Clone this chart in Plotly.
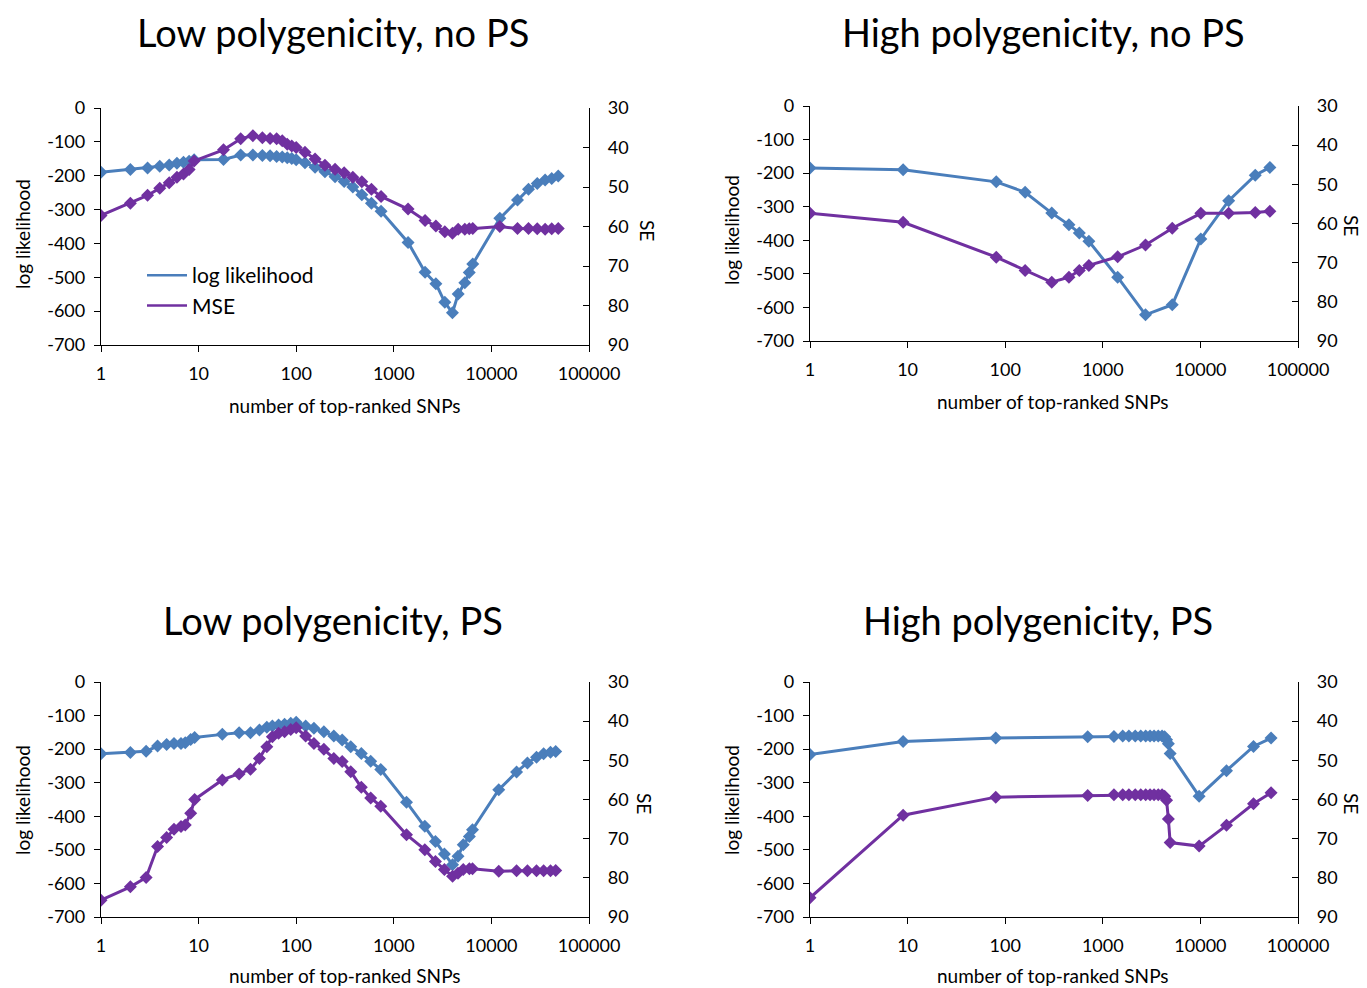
import plotly.graph_objects as go

# ---------------- data ----------------
panel_titles = ["Low polygenicity, no PS", "High polygenicity, no PS",
                "Low polygenicity, PS", "High polygenicity, PS"]
x_title = "number of top-ranked SNPs"
y_title = "log likelihood"
y2_title = "SE"
series_names = ["log likelihood", "MSE"]
x_tick_vals = [1, 10, 100, 1000, 10000, 100000]
x_tick_text = ["1", "10", "100", "1000", "10000", "100000"]
ll_tick_vals = [0, -100, -200, -300, -400, -500, -600, -700]
ll_tick_text = ["0", "-100", "-200", "-300", "-400", "-500", "-600", "-700"]
se_tick_vals = [30, 40, 50, 60, 70, 80, 90]

low_nops_snps = [1, 2, 3, 4, 5, 6, 7, 8, 9, 18, 27, 36, 45, 54, 63, 72, 81, 90, 100,
                 123, 156, 197, 250, 310, 380, 470, 590, 740,
                 1400, 2090, 2700, 3330, 3990, 4570, 5340, 5930, 6440,
                 12200, 18500, 24000, 29500, 35500, 41500, 48400]
low_nops_loglik = [-190, -182, -177, -172, -168, -163, -160, -157, -153, -152, -139, -139, -140, -141,
                   -143, -145, -147, -149, -153,
                   -162, -175, -188, -203, -217, -233, -256, -281, -305,
                   -397, -485, -519, -574, -605, -549, -516, -486, -461,
                   -326, -272, -240, -223, -213, -208, -201]
low_nops_mse = [57.2, 54.1, 52.1, 50.3, 48.9, 47.5, 46.7, 45.6, 43.4, 40.6, 37.8, 37.0, 37.5, 37.7,
                37.8, 38.3, 39.2, 39.6, 40.0,
                41.2, 42.9, 44.5, 45.5, 46.4, 47.5, 48.7, 50.6, 52.4,
                55.6, 58.5, 59.9, 61.3, 61.7, 60.7, 60.7, 60.6, 60.5,
                60.0, 60.5, 60.5, 60.6, 60.7, 60.6, 60.5]

high_nops_snps = [1, 9, 81, 160, 300, 450, 575, 720, 1420, 2740, 5150, 10100, 19500, 36500, 51500]
high_nops_loglik = [-185, -190, -226, -257, -319, -354, -378, -403, -510, -622, -592, -396, -282, -206, -183]
high_nops_mse = [57.4, 59.7, 68.6, 72.0, 75.0, 73.7, 72.0, 70.7, 68.5, 65.5, 61.2, 57.4, 57.4, 57.2, 56.9]

low_ps_snps = [1, 2, 2.9, 3.8, 4.7, 5.6, 6.6, 7.3, 8.3, 9.1, 17.5, 26, 34, 42, 50, 57, 66, 76, 88, 100,
               125, 152, 192, 243, 296, 362, 465, 580, 735,
               1350, 2080, 2670, 3300, 4000, 4550, 5150, 5950, 6400,
               11900, 18100, 23400, 29000, 34300, 40300, 45600]
low_ps_loglik = [-214, -210, -206, -191, -186, -183, -183, -181, -171, -165,
                 -156, -151, -151, -143, -135, -131, -128, -126, -123, -120,
                 -131, -138, -148, -161, -173, -193, -213, -236, -261,
                 -358, -430, -475, -512, -544, -519, -485, -460, -440,
                 -321, -268, -241, -224, -214, -209, -207]
low_ps_mse = [85.7, 82.3, 79.9, 72.0, 69.7, 67.6, 66.9, 66.5, 63.5, 60.0,
              55.0, 53.5, 52.3, 49.5, 46.5, 44.0, 43.1, 42.7, 42.1, 41.7,
              43.8, 45.7, 47.2, 49.5, 50.3, 52.9, 56.9, 59.6, 61.7,
              69.0, 72.8, 75.8, 77.9, 79.6, 78.8, 77.9, 77.7, 77.7,
              78.3, 78.2, 78.2, 78.2, 78.2, 78.2, 78.1]

high_ps_snps = [1, 9, 80, 700, 1300, 1600, 1850, 2150, 2450, 2750, 3050, 3350, 3700, 4050,
                4300, 4500, 4700, 4900, 9700, 18500, 35000, 53000]
high_ps_loglik = [-216, -177, -167, -163, -162, -161, -161, -161, -161, -161, -161, -161, -161, -161,
                  -163, -172, -184, -213, -340, -264, -192, -167]
high_ps_mse = [85.1, 64.0, 59.4, 59.0, 58.8, 58.8, 58.8, 58.8, 58.8, 58.8, 58.8, 58.8, 58.8, 58.8,
               59.2, 60.2, 65.0, 71.0, 71.9, 66.6, 61.1, 58.3]

panels = [
    (low_nops_snps, low_nops_loglik, low_nops_mse),
    (high_nops_snps, high_nops_loglik, high_nops_mse),
    (low_ps_snps, low_ps_loglik, low_ps_mse),
    (high_ps_snps, high_ps_loglik, high_ps_mse),
]

# ---------------- style / layout ----------------
OFF = 8                      # default page body margin
W, H = 1367 - OFF, 988 - OFF
FONT = "Lato"
BLUE = "#4A7EBB"
PURPLE = "#7030A0"
TXT = "#000000"

# plot rectangles in window pixels: (left, right, top, bottom)
rects = [(101, 589, 108, 345), (810, 1298, 106, 341),
         (101, 589, 682, 917), (810, 1298, 682, 917)]
title_pos = [(333, 32), (1043, 32), (333, 620), (1038, 620)]
xt_pos = [(345, 405), (1053, 402), (345, 975), (1053, 975)]
yt_pos = [(22, 234), (731, 230), (22, 800), (731, 800)]
y2t_pos = [(648, 230), (1352, 225), (645, 803), (1352, 803)]


def px(x):
    return (x - OFF) / W


def py(y):
    return 1 - (y - OFF) / H


fig = go.Figure()
layout = dict(
    width=W, height=H,
    margin=dict(l=0, r=0, t=0, b=0, autoexpand=False),
    paper_bgcolor="white", plot_bgcolor="white",
    font=dict(family=FONT, size=18, color=TXT),
    showlegend=True,
    legend=dict(x=px(142), y=py(255), xanchor="left", yanchor="top",
                font=dict(family=FONT, size=21, color=TXT),
                bgcolor="rgba(0,0,0,0)", tracegroupgap=0, itemwidth=40),
)
annotations = []

axis_common = dict(showgrid=False, zeroline=False, showline=True, linecolor="black",
                   linewidth=1.3, tickcolor="black", tickwidth=1.3, ticklen=6,
                   automargin=False,
                   tickfont=dict(family=FONT, size=18, color=TXT))

for i, ((snps, ll, mse), (l, r, t, b)) in enumerate(zip(panels, rects)):
    xa = "x" if i == 0 else f"x{i + 1}"
    ya = "y" if i == 0 else f"y{2 * i + 1}"
    ya2 = f"y{2 * i + 2}"
    xkey = "xaxis" if i == 0 else f"xaxis{i + 1}"
    ykey = "yaxis" if i == 0 else f"yaxis{2 * i + 1}"
    y2key = f"yaxis{2 * i + 2}"

    layout[xkey] = dict(axis_common, type="log", range=[0, 5], domain=[px(l), px(r)],
                        anchor=ya, tickvals=x_tick_vals, ticktext=x_tick_text,
                        ticks="outside", ticklabelstandoff=6)
    layout[ykey] = dict(axis_common, range=[-700, 0], domain=[py(b), py(t)], anchor=xa,
                        tickvals=ll_tick_vals, ticktext=ll_tick_text,
                        ticks="outside", ticklabelstandoff=5)
    layout[y2key] = dict(axis_common, range=[90, 30], overlaying=ya, side="right",
                         anchor=xa, tickvals=se_tick_vals, ticks="inside",
                         ticklabelstandoff=14)

    fig.add_trace(go.Scatter(x=snps, y=ll, xaxis=xa, yaxis=ya, mode="lines+markers",
                             name=series_names[0], showlegend=False,
                             line=dict(color=BLUE, width=3),
                             marker=dict(symbol="diamond", size=10, color=BLUE)))
    fig.add_trace(go.Scatter(x=snps, y=mse, xaxis=xa, yaxis=ya2, mode="lines+markers",
                             name=series_names[1], showlegend=False,
                             line=dict(color=PURPLE, width=3),
                             marker=dict(symbol="diamond", size=10, color=PURPLE)))

    tx, ty = title_pos[i]
    annotations.append(dict(text=panel_titles[i], x=px(tx), y=py(ty), xref="paper", yref="paper",
                            showarrow=False, xanchor="center", yanchor="middle",
                            font=dict(family=FONT, size=38, color=TXT)))
    ax_, ay_ = xt_pos[i]
    annotations.append(dict(text=x_title, x=px(ax_), y=py(ay_), xref="paper", yref="paper",
                            showarrow=False, xanchor="center", yanchor="middle",
                            font=dict(family=FONT, size=19, color=TXT)))
    lx, ly = yt_pos[i]
    annotations.append(dict(text=y_title, x=px(lx), y=py(ly), xref="paper", yref="paper",
                            showarrow=False, xanchor="center", yanchor="middle", textangle=-90,
                            font=dict(family=FONT, size=19, color=TXT)))
    sx, sy = y2t_pos[i]
    annotations.append(dict(text=y2_title, x=px(sx), y=py(sy), xref="paper", yref="paper",
                            showarrow=False, xanchor="center", yanchor="middle", textangle=90,
                            font=dict(family=FONT, size=19, color=TXT)))

# legend entries (lines only, as in the original)
fig.add_trace(go.Scatter(x=[None], y=[None], xaxis="x", yaxis="y", mode="lines",
                         name=series_names[0], line=dict(color=BLUE, width=2.5)))
fig.add_trace(go.Scatter(x=[None], y=[None], xaxis="x", yaxis="y2", mode="lines",
                         name=series_names[1], line=dict(color=PURPLE, width=2.5)))

layout["annotations"] = annotations
fig.update_layout(**layout)
fig.write_html("out.html")
